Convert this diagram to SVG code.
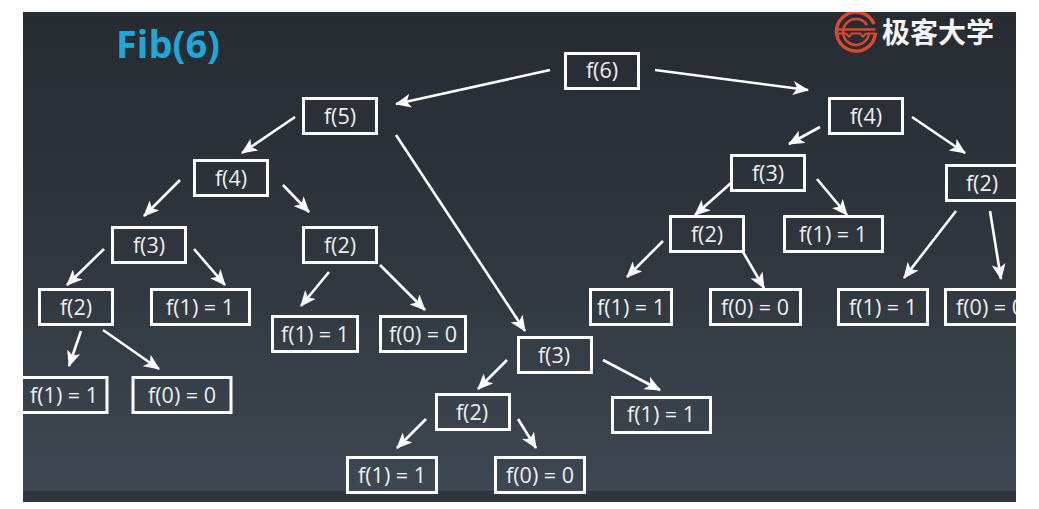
<svg xmlns="http://www.w3.org/2000/svg" width="1039" height="509" viewBox="0 0 1039 509">
<style>
.n rect{fill:none;stroke:#fff;stroke-width:3}
.n text{fill:#eef0f2;font-family:"Open Sans","Noto Sans",sans-serif;font-size:21.500px;text-anchor:middle}
#connectors line{stroke:#fff;stroke-width:2.600;marker-end:url(#a)}
</style>
<defs>
<linearGradient id="bg" x1="0" y1="0" x2="0" y2="1"><stop offset="0" stop-color="#272c33"/><stop offset=".5" stop-color="#2f363d"/><stop offset="1" stop-color="#3e4852"/></linearGradient>
<marker id="a" markerUnits="userSpaceOnUse" markerWidth="16" markerHeight="14" refX="15" refY="7" orient="auto"><path d="M0 0L16 7L0 14L4 7Z" fill="#fff"/></marker>
<clipPath id="c"><rect x="23" y="12" width="993" height="490"/></clipPath>
</defs>
<rect width="1039" height="509" fill="#fff"/>
<g clip-path="url(#c)">
<rect x="23" y="12" width="993" height="479" fill="url(#bg)"/>
<rect x="23" y="491" width="993" height="11" fill="#2f363d"/>
<g id="title"><text x="116" y="58" font-family="'Open Sans','Noto Sans',sans-serif" font-weight="700" font-size="38" fill="#1ea8da">Fib(6)</text></g>
<g id="logo" fill="none" stroke="#d8492d">
<path d="M874 24A19.500 19.500 0 1 0 875.500 33" stroke-width="3.500"/>
<path d="M867 25A13 13 0 1 0 869 33" stroke-width="2.500"/>
<path d="M836.500 29.500H875.500" stroke-width="2.500"/>
<path d="M838 33.500h8l3 3l3-3h8l3 3l3-3h10" stroke-width="2"/>
</g>
<text x="882" y="43" font-family="'Noto Sans CJK SC',sans-serif" font-weight="700" font-size="28" fill="#f4f4f4">极客大学</text>
<g id="connectors">
<line x1="550" y1="70" x2="396" y2="104"/>
<line x1="655" y1="70" x2="808" y2="90"/>
<line x1="295" y1="117" x2="242" y2="153"/>
<line x1="396" y1="135" x2="525" y2="331"/>
<line x1="180" y1="180" x2="144" y2="216"/>
<line x1="283" y1="185" x2="309" y2="212"/>
<line x1="104" y1="249" x2="67" y2="285"/>
<line x1="194" y1="249" x2="225" y2="285"/>
<line x1="329" y1="272" x2="301" y2="306"/>
<line x1="380" y1="265" x2="425" y2="310"/>
<line x1="81" y1="331" x2="69" y2="366"/>
<line x1="103" y1="330" x2="159" y2="369"/>
<line x1="507" y1="360" x2="478" y2="389"/>
<line x1="603" y1="360" x2="660" y2="390"/>
<line x1="426" y1="419" x2="397" y2="448"/>
<line x1="518" y1="419" x2="536" y2="448"/>
<line x1="820" y1="127" x2="789" y2="144"/>
<line x1="912" y1="117" x2="965" y2="153"/>
<line x1="731" y1="183" x2="695" y2="215"/>
<line x1="817" y1="179" x2="847" y2="215"/>
<line x1="663" y1="241" x2="627" y2="277"/>
<line x1="743" y1="252" x2="764" y2="288"/>
<line x1="956" y1="211" x2="904" y2="278"/>
<line x1="990" y1="211" x2="1001" y2="279"/>
</g>
<g id="n1" class="n"><rect x="565.500" y="53.500" width="73" height="35"/><text x="602" y="78">f(6)</text></g>
<g id="n2" class="n"><rect x="303.500" y="98.500" width="73" height="35"/><text x="340" y="124">f(5)</text></g>
<g id="n3" class="n"><rect x="194.500" y="160.500" width="73" height="35"/><text x="231" y="186">f(4)</text></g>
<g id="n4" class="n"><rect x="112.500" y="227.500" width="73" height="35"/><text x="149" y="253">f(3)</text></g>
<g id="n5" class="n"><rect x="39.500" y="289.500" width="73" height="35"/><text x="76" y="315">f(2)</text></g>
<g id="n6" class="n"><rect x="151.500" y="289.500" width="98" height="35"/><text x="200" y="315">f(1) = 1</text></g>
<g id="n7" class="n"><rect x="303.500" y="227.500" width="73" height="35"/><text x="340" y="253">f(2)</text></g>
<g id="n8" class="n"><rect x="272.500" y="316.500" width="85" height="35"/><text x="315" y="342">f(1) = 1</text></g>
<g id="n9" class="n"><rect x="380.500" y="316.500" width="85" height="35"/><text x="423" y="342">f(0) = 0</text></g>
<g id="n10" class="n"><rect x="10" y="377.500" width="97" height="35"/><text x="64" y="403">f(1) = 1</text></g>
<g id="n11" class="n"><rect x="133" y="377.500" width="98" height="35"/><text x="182" y="403">f(0) = 0</text></g>
<g id="n12" class="n"><rect x="518.500" y="337.500" width="73" height="35"/><text x="554" y="363">f(3)</text></g>
<g id="n13" class="n"><rect x="612.500" y="397.500" width="98" height="35"/><text x="661" y="422">f(1) = 1</text></g>
<g id="n14" class="n"><rect x="436.500" y="394.500" width="73" height="35"/><text x="472" y="420">f(2)</text></g>
<g id="n15" class="n"><rect x="347.500" y="457.500" width="89" height="35"/><text x="392" y="483">f(1) = 1</text></g>
<g id="n16" class="n"><rect x="495.500" y="457.500" width="89" height="35"/><text x="540" y="483">f(0) = 0</text></g>
<g id="n17" class="n"><rect x="829.500" y="98.500" width="73" height="35"/><text x="866" y="124">f(4)</text></g>
<g id="n18" class="n"><rect x="731.500" y="155.500" width="73" height="35"/><text x="768" y="181">f(3)</text></g>
<g id="n19" class="n"><rect x="670.500" y="216.500" width="73" height="35"/><text x="707" y="242">f(2)</text></g>
<g id="n20" class="n"><rect x="784.500" y="216.500" width="98" height="35"/><text x="833" y="242">f(1) = 1</text></g>
<g id="n21" class="n"><rect x="590.500" y="289.500" width="81" height="35"/><text x="631" y="315">f(1) = 1</text></g>
<g id="n22" class="n"><rect x="710.500" y="289.500" width="90" height="35"/><text x="755" y="315">f(0) = 0</text></g>
<g id="n23" class="n"><rect x="946.500" y="165.500" width="90" height="35"/><text x="982" y="191">f(2)</text></g>
<g id="n24" class="n"><rect x="838.500" y="289.500" width="89" height="35"/><text x="883" y="315">f(1) = 1</text></g>
<g id="n25" class="n"><rect x="945.500" y="289.500" width="90" height="35"/><text x="990" y="315">f(0) = 0</text></g>
</g>
</svg>
